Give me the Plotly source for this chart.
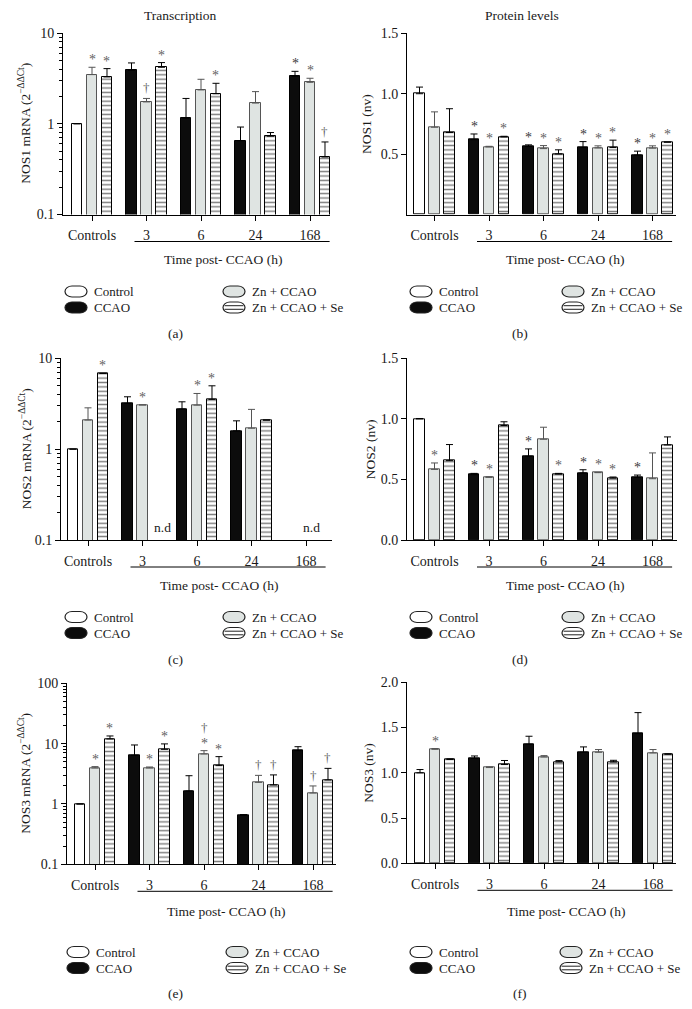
import math
import plotly.graph_objects as go

W, H = 692, 1009
FONT = "Liberation Serif"
PAGE_PAD = 8          # the page body margin moves the plot by this many px

groups = ["Controls", "3", "6", "24", "168"]
legend_labels = ["Control", "CCAO", "Zn + CCAO", "Zn + CCAO + Se"]
log_tick_vals = [0.1, 1, 10, 100]
log_tick_text = ["0.1", "1", "10", "100"]

# %% Data (first bar of every group: Control in "Controls", CCAO at time points)

# (a) NOS1 mRNA
nos1_mrna_ccao = [1.0, 3.88, 1.15, 0.65, 3.33]
nos1_mrna_ccao_err = [0, 0.80, 0.75, 0.27, 0.45]
nos1_mrna_zn = [3.48, 1.74, 2.36, 1.69, 2.86]
nos1_mrna_zn_err = [0.71, 0.16, 0.73, 0.57, 0.31]
nos1_mrna_znse = [3.28, 4.19, 2.14, 0.73, 0.43]
nos1_mrna_znse_err = [0.77, 0.53, 0.65, 0.07, 0.20]
nos1_mrna_sig = [["", "", "", "", "*"],
                 ["*", "†", "", "", "*"],
                 ["*", "*", "*", "", "†"]]

# (b) NOS1 protein
nos1_prot_ccao = [1.0, 0.62, 0.563, 0.555, 0.492]
nos1_prot_ccao_err = [0.055, 0.047, 0.014, 0.049, 0.033]
nos1_prot_zn = [0.723, 0.56, 0.546, 0.552, 0.55]
nos1_prot_zn_err = [0.127, 0.005, 0.025, 0.017, 0.019]
nos1_prot_znse = [0.679, 0.643, 0.502, 0.555, 0.60]
nos1_prot_znse_err = [0.197, 0.005, 0.034, 0.061, 0.0]
nos1_prot_sig = [["", "*", "*", "*", "*"],
                 ["", "*", "*", "*", "*"],
                 ["", "*", "*", "*", "*"]]

# (c) NOS2 mRNA  (None = n.d)
nos2_mrna_ccao = [1.0, 3.19, 2.76, 1.59, None]
nos2_mrna_ccao_err = [0, 0.58, 0.56, 0.46, 0]
nos2_mrna_zn = [2.09, 3.07, 3.05, 1.70, None]
nos2_mrna_zn_err = [0.76, 0, 1.05, 1.04, 0]
nos2_mrna_znse = [6.82, None, 3.53, 2.09, None]
nos2_mrna_znse_err = [0, 0, 1.45, 0, 0]
nos2_mrna_sig = [["", "", "", "", ""],
                 ["", "*", "*", "", ""],
                 ["*", "", "*", "", ""]]
nos2_mrna_nd = [(1, 2, "n.d"), (4, 1, "n.d")]

# (d) NOS2 protein
nos2_prot_ccao = [1.0, 0.539, 0.691, 0.553, 0.517]
nos2_prot_ccao_err = [0.003, 0.011, 0.061, 0.027, 0.019]
nos2_prot_zn = [0.583, 0.517, 0.832, 0.556, 0.506]
nos2_prot_zn_err = [0.053, 0.005, 0.099, 0.002, 0.213]
nos2_prot_znse = [0.655, 0.945, 0.544, 0.511, 0.785]
nos2_prot_znse_err = [0.133, 0.031, 0.006, 0.009, 0.066]
nos2_prot_sig = [["", "*", "*", "*", "*"],
                 ["*", "*", "", "*", ""],
                 ["", "", "*", "*", ""]]

# (e) NOS3 mRNA
nos3_mrna_ccao = [1.0, 6.4, 1.64, 0.647, 7.65]
nos3_mrna_ccao_err = [0, 3.1, 1.3, 0.02, 1.25]
nos3_mrna_zn = [3.95, 3.95, 6.75, 2.28, 1.52]
nos3_mrna_zn_err = [0.21, 0.15, 0.9, 0.7, 0.47]
nos3_mrna_znse = [11.97, 8.05, 4.32, 2.07, 2.5]
nos3_mrna_znse_err = [1.43, 1.85, 1.77, 0.96, 1.39]
nos3_mrna_sig = [["", "", "", "", ""],
                 ["*", "*", "*†", "†", "†"],
                 ["*", "*", "*", "†", "†"]]

# (f) NOS3 protein
nos3_prot_ccao = [1.0, 1.158, 1.315, 1.227, 1.433]
nos3_prot_ccao_err = [0.036, 0.028, 0.089, 0.059, 0.232]
nos3_prot_zn = [1.26, 1.058, 1.175, 1.227, 1.22]
nos3_prot_zn_err = [0.008, 0.008, 0.015, 0.03, 0.037]
nos3_prot_znse = [1.147, 1.091, 1.12, 1.12, 1.205]
nos3_prot_znse_err = [0.007, 0.045, 0.015, 0.018, 0.005]
nos3_prot_sig = [["", "", "", "", ""],
                 ["*", "", "", "", ""],
                 ["", "", "", "", ""]]

# %% Layout helpers

PITCH = 54.5          # px between group centres
OFFSETS = [-0.275, 0.0, 0.275]
BAR_W = 0.185
GREY = "#dfe4e2"
TXT = 13.5


def fx(x):
    return (x - PAGE_PAD) / W


def fy(y):
    return 1 - (y - PAGE_PAD) / H


mrna_title = "{} mRNA (2<sup>−ΔΔCt</sup>)"

panels = [
    dict(letter="(a)", x0=63, x1=330, c0=92, top=33, bot=214.5, log=True, yr=[-1, 1],
         ticks=[0.1, 1, 10], data=(nos1_mrna_ccao, nos1_mrna_ccao_err, nos1_mrna_zn, nos1_mrna_zn_err,
                                   nos1_mrna_znse, nos1_mrna_znse_err), sig=nos1_mrna_sig,
         ytitle=mrna_title.format("NOS1"), ytx=25, base=214.5, leg=(65, 223)),
    dict(letter="(b)", x0=407, x1=676, c0=434.5, top=33.3, bot=214.6, log=False, yr=[0, 1.5],
         ticks=[0.5, 1.0, 1.5], data=(nos1_prot_ccao, nos1_prot_ccao_err, nos1_prot_zn, nos1_prot_zn_err,
                                      nos1_prot_znse, nos1_prot_znse_err), sig=nos1_prot_sig,
         ytitle="NOS1 (nv)", ytx=367, base=214.5, leg=(410, 562)),
    dict(letter="(c)", x0=61, x1=332, c0=88, top=358.3, bot=540, log=True, yr=[-1, 1],
         ticks=[0.1, 1, 10], data=(nos2_mrna_ccao, nos2_mrna_ccao_err, nos2_mrna_zn, nos2_mrna_zn_err,
                                   nos2_mrna_znse, nos2_mrna_znse_err), sig=nos2_mrna_sig,
         ytitle=mrna_title.format("NOS2"), ytx=25, base=540, leg=(65, 223), nd=nos2_mrna_nd),
    dict(letter="(d)", x0=407, x1=677, c0=434.5, top=358.3, bot=540, log=False, yr=[0, 1.5],
         ticks=[0, 0.5, 1.0, 1.5], data=(nos2_prot_ccao, nos2_prot_ccao_err, nos2_prot_zn, nos2_prot_zn_err,
                                         nos2_prot_znse, nos2_prot_znse_err), sig=nos2_prot_sig,
         ytitle="NOS2 (nv)", ytx=370, base=540, leg=(410, 562)),
    dict(letter="(e)", x0=67, x1=336, c0=95, top=683.3, bot=864.3, log=True, yr=[-1, 2],
         ticks=[0.1, 1, 10, 100], data=(nos3_mrna_ccao, nos3_mrna_ccao_err, nos3_mrna_zn, nos3_mrna_zn_err,
                                        nos3_mrna_znse, nos3_mrna_znse_err), sig=nos3_mrna_sig,
         ytitle=mrna_title.format("NOS3"), ytx=25, base=864.3, leg=(67, 226), legy=952, lety=993, timey=911),
    dict(letter="(f)", x0=407, x1=676, c0=435, top=682.3, bot=863.3, log=False, yr=[0, 2.0],
         ticks=[0, 0.5, 1.0, 1.5, 2.0], data=(nos3_prot_ccao, nos3_prot_ccao_err, nos3_prot_zn, nos3_prot_zn_err,
                                              nos3_prot_znse, nos3_prot_znse_err), sig=nos3_prot_sig,
         ytitle="NOS3 (nv)", ytx=369, base=863.3, leg=(410, 560), legy=952, lety=993, timey=911),
]


def pill(x0, yc, w=22, h=11):
    """Rounded legend token as an SVG path in paper coordinates"""
    rx, ry = 7.0, h / 2
    k = 0.5523
    y0, y1 = yc - ry, yc + ry
    pts = [
        ("M", [(x0 + rx, y0)]),
        ("L", [(x0 + w - rx, y0)]),
        ("C", [(x0 + w - rx + k * rx, y0), (x0 + w, yc - k * ry), (x0 + w, yc)]),
        ("C", [(x0 + w, yc + k * ry), (x0 + w - rx + k * rx, y1), (x0 + w - rx, y1)]),
        ("L", [(x0 + rx, y1)]),
        ("C", [(x0 + rx - k * rx, y1), (x0, yc + k * ry), (x0, yc)]),
        ("C", [(x0, yc - k * ry), (x0 + rx - k * rx, y0), (x0 + rx, y0)]),
    ]
    s = ""
    for cmd, p in pts:
        s += cmd + " ".join(f"{fx(a):.5f},{fy(b):.5f}" for a, b in p) + " "
    return s + "Z"


def label(x, y, text, size=TXT, xanchor="center", **kw):
    return dict(x=fx(x), y=fy(y), xref="paper", yref="paper", text=text, showarrow=False,
                xanchor=xanchor, yanchor="middle", font=dict(size=size), **kw)


# %% Figure

fig = go.Figure()
layout = dict(width=W, height=H, margin=dict(l=0, r=0, t=0, b=0, pad=0, autoexpand=False),
              paper_bgcolor="white", plot_bgcolor="white", showlegend=False,
              font=dict(family=FONT, size=TXT, color="#1a1a1a"), bargap=0)
annotations, shapes = [], []

for i, p in enumerate(panels):
    sfx = "" if i == 0 else str(i + 1)
    xa, ya = "x" + sfx, "y" + sfx
    xr = [(p["x0"] - p["c0"]) / PITCH, (p["x1"] - p["c0"]) / PITCH]
    layout["xaxis" + sfx] = dict(
        domain=[fx(p["x0"]), fx(p["x1"])], anchor=ya, range=xr, automargin=False,
        showline=True, linecolor="black", linewidth=1, ticks="outside", ticklen=5,
        tickcolor="black", tickvals=list(range(len(groups))), ticktext=groups,
        tickfont=dict(size=14), showgrid=False, zeroline=False, ticklabelstandoff=3)
    ycfg = dict(domain=[fy(p["bot"]), fy(p["top"])], anchor=xa, range=p["yr"], automargin=False,
                showline=True, linecolor="black", linewidth=1, ticks="outside", ticklen=5,
                tickcolor="black", tickfont=dict(size=14), showgrid=False, zeroline=False,
                tickvals=p["ticks"])
    if p["log"]:
        ycfg["type"] = "log"
        ycfg["ticktext"] = [log_tick_text[log_tick_vals.index(t)] for t in p["ticks"]]
        minor = [m * 10 ** d for d in range(p["yr"][0], p["yr"][1]) for m in range(2, 10)]
        ycfg["minor"] = dict(tickvals=minor, ticks="outside", ticklen=3, tickcolor="black", showgrid=False)
    else:
        ycfg["tickformat"] = ".1f"
    layout["yaxis" + sfx] = ycfg

    first, first_err, zn, zn_err, znse, znse_err = p["data"]
    series = [(first, first_err), (zn, zn_err), (znse, znse_err)]
    for k, (vals, errs) in enumerate(series):
        xs = [g + OFFSETS[k] for g in range(len(groups))]
        if k == 0:
            marker = dict(color=["white"] + ["#0c0c0c"] * 4, line=dict(color="black", width=1))
        elif k == 1:
            marker = dict(color=GREY, line=dict(color="#555555", width=1))
        else:
            marker = dict(color="white", line=dict(color="black", width=1),
                          pattern=dict(shape="-", fgcolor="black", bgcolor="white",
                                       size=4.4, solidity=0.33))
        fig.add_trace(go.Bar(
            x=xs, y=vals, width=BAR_W, marker=marker, xaxis=xa, yaxis=ya,
            error_y=dict(type="data", symmetric=False, array=errs, arrayminus=[0] * len(errs),
                         color="#555555" if k == 1 else "black", thickness=1, width=3.5)))

        # significance marks
        for g, v in enumerate(vals):
            mark = p["sig"][k][g]
            if v is None or not mark:
                continue
            top = v + (errs[g] or 0)
            yv = math.log10(top) if p["log"] else top
            for j, ch in enumerate(mark):
                annotations.append(dict(
                    x=xs[g], y=yv, xref=xa, yref=ya, text=ch, showarrow=False,
                    xanchor="center", yanchor="bottom", yshift=(-2 if ch == "*" else 1) + 13 * j,
                    font=dict(size=14 if ch == "*" else 13,
                              color="#3a3a3a" if k == 0 else "#5f5f5f")))

    for g, k, txt in p.get("nd", []):
        annotations.append(dict(x=g + OFFSETS[k] + 0.1, y=p["yr"][0], xref=xa, yref=ya, text=txt,
                                showarrow=False, xanchor="center", yanchor="bottom", yshift=3,
                                font=dict(size=TXT)))

    # underline below the time points and axis caption
    ul_y = p["base"] + 27
    shapes.append(dict(type="line", xref=xa, yref="paper", x0=1 - 0.22, x1=4 + 0.36,
                       y0=fy(ul_y), y1=fy(ul_y), line=dict(color="black", width=1)))
    time_y = p.get("timey", p["base"] + 45)
    time_x = p["c0"] + 2.4 * PITCH
    annotations.append(label(time_x, time_y, "Time post- CCAO (h)"))

    # y axis title
    annotations.append(label(p["ytx"], (p["top"] + p["bot"]) / 2, p["ytitle"], textangle=-90))

    # legend tokens
    leg_y = p.get("legy", p["base"] + 77)
    for n, lab in enumerate(legend_labels):
        col = 0 if n < 2 else 1
        row = n % 2
        lx = p["leg"][col]
        ly = leg_y + 16 * row
        fill = ["white", "#0c0c0c", GREY, "white"][n]
        shapes.append(dict(type="path", xref="paper", yref="paper", path=pill(lx, ly),
                           fillcolor=fill, line=dict(color="#222222", width=1.2)))
        if n == 3:
            for dy in (-1.8, 1.8):
                shapes.append(dict(type="line", xref="paper", yref="paper",
                                   x0=fx(lx + 1.5), x1=fx(lx + 20.5), y0=fy(ly + dy), y1=fy(ly + dy),
                                   line=dict(color="#222222", width=1)))
        annotations.append(label(lx + 27, ly, lab, size=13, xanchor="left"))

    # panel letter
    let_y = p.get("lety", p["base"] + 119)
    let_x = 175 if i % 2 == 0 else 520
    annotations.append(label(let_x, let_y, p["letter"]))

# column headers
annotations.append(label(180, 15, "Transcription"))
annotations.append(label(522, 16, "Protein levels"))

layout["annotations"] = annotations
layout["shapes"] = shapes
fig.update_layout(**layout)
fig.write_html("out.html")
